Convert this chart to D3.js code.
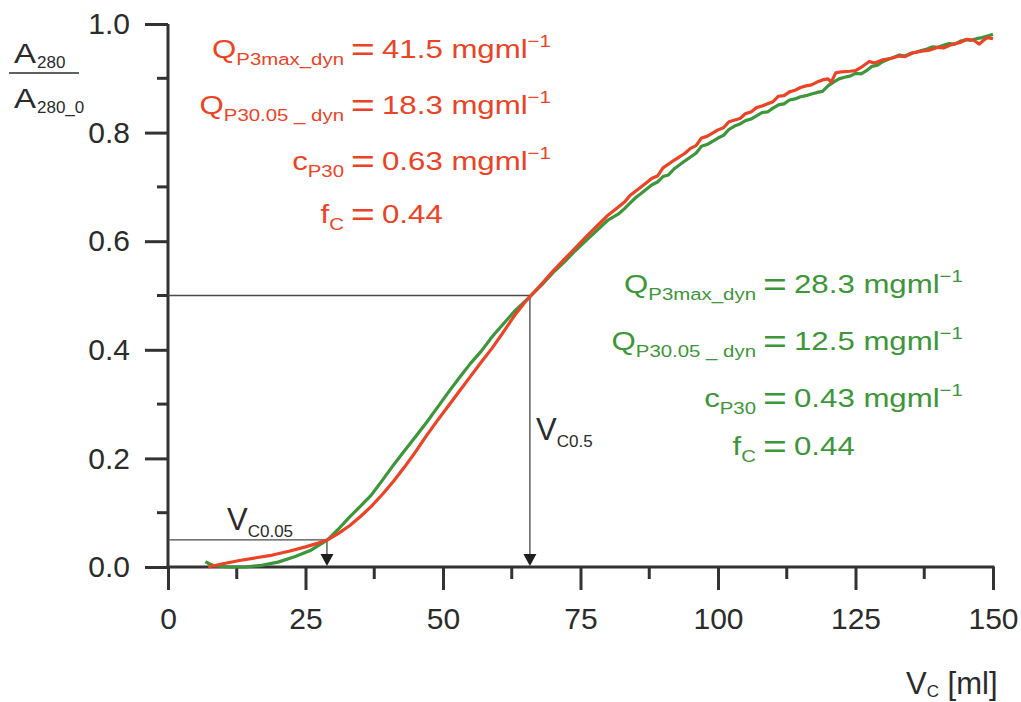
<!DOCTYPE html>
<html>
<head>
<meta charset="utf-8">
<script src="https://cdn.jsdelivr.net/npm/d3@7"></script>
<style>
  html, body { margin: 0; padding: 0; background: #fff; }
  svg { display: block; font-family: "Liberation Sans", Arial, Helvetica, sans-serif; }
</style>
</head>
<body>
<svg id="chart" width="1021" height="702"></svg>
<script>
// Breakthrough curves: normalised absorbance A280/A280_0 versus loaded volume Vc [ml]
const redVolume = [7.3, 10, 13, 16, 19, 22, 25, 27, 29, 31, 33, 35, 37, 39, 41, 43, 45, 47, 49, 51, 53, 55, 57, 59, 61, 63, 65,
  66, 68, 70, 72, 74, 76, 78, 80, 82, 83, 84, 86, 88, 89, 90, 92, 94, 95, 96, 97, 98, 100, 101, 102, 104, 105, 106, 107, 108,
  110, 111, 112, 113, 114, 115, 116, 117, 118, 119, 120, 120.6, 121.4, 122.5, 124, 125, 126, 127.5, 128.5, 130, 131.5, 133,
  134, 135.5, 137, 138.5, 140, 141, 142.5, 144, 145.3, 146.5, 147.5, 148.3, 149, 150];
const redRatio = [0.000, 0.006, 0.012, 0.017, 0.022, 0.029, 0.037, 0.043, 0.050, 0.062, 0.076, 0.093, 0.112, 0.134, 0.158,
  0.184, 0.212, 0.242, 0.270, 0.297, 0.324, 0.351, 0.378, 0.404, 0.433, 0.463, 0.489,
  0.500, 0.522, 0.545, 0.566, 0.587, 0.608, 0.628, 0.648, 0.664, 0.672, 0.684, 0.700, 0.716, 0.720, 0.735, 0.749, 0.762,
  0.771, 0.776, 0.790, 0.793, 0.805, 0.809, 0.820, 0.826, 0.835, 0.838, 0.846, 0.849,
  0.857, 0.867, 0.868, 0.875, 0.878, 0.883, 0.886, 0.888, 0.893, 0.897, 0.899, 0.893, 0.910, 0.912, 0.913, 0.914, 0.920,
  0.931, 0.928, 0.934, 0.937, 0.941, 0.940, 0.947, 0.950, 0.952, 0.957, 0.956, 0.962, 0.966, 0.972, 0.970, 0.963, 0.970,
  0.975, 0.973];

const greenVolume = [6.8, 7.5, 8.5, 11, 14, 17, 20, 23, 26, 29, 31, 33, 35, 37, 39, 41, 43, 45, 47, 49, 51, 53, 55, 57, 59,
  61, 63, 65, 66, 68, 70, 72, 74, 76, 78, 80, 82, 83, 84, 85, 86, 88, 89, 90, 91, 92, 94, 95, 96, 97, 98, 100, 101, 102,
  103, 104, 105, 106, 108, 109, 110, 111, 112, 113, 114, 115, 116, 117, 118, 119, 120, 121, 122, 123, 124, 125, 126, 127,
  128, 129, 130, 131, 132, 133, 134, 135, 136, 137, 138, 139, 140, 141, 142, 143, 144, 145, 146, 147, 148, 149, 150];
const greenRatio = [0.010, 0.006, 0.002, 0.000, 0.000, 0.003, 0.009, 0.019, 0.031, 0.050, 0.070, 0.092, 0.112, 0.133, 0.160,
  0.188, 0.214, 0.240, 0.266, 0.294, 0.322, 0.349, 0.375, 0.398, 0.425, 0.448, 0.471, 0.490, 0.500, 0.520, 0.542, 0.561,
  0.582, 0.601, 0.620, 0.639, 0.651, 0.660, 0.670, 0.680, 0.688, 0.704, 0.709, 0.719, 0.722, 0.733, 0.748, 0.755, 0.762,
  0.775, 0.778, 0.790, 0.795, 0.806, 0.812, 0.816, 0.822, 0.825, 0.837, 0.838, 0.845, 0.851, 0.853, 0.860, 0.862, 0.866,
  0.868, 0.871, 0.874, 0.876, 0.886, 0.893, 0.899, 0.902, 0.904, 0.909, 0.908, 0.914, 0.922, 0.924, 0.931, 0.935, 0.939,
  0.943, 0.941, 0.946, 0.948, 0.951, 0.954, 0.958, 0.957, 0.961, 0.964, 0.963, 0.968, 0.971, 0.970, 0.973, 0.975, 0.978,
  0.981];

const xTicks = [0, 25, 50, 75, 100, 125, 150];
const xMinorTicks = [12.5, 37.5, 62.5, 87.5, 112.5, 137.5];
const yTicks = [0.0, 0.2, 0.4, 0.6, 0.8, 1.0];
const yMinorTicks = [0.1, 0.3, 0.5, 0.7, 0.9];

// Breakthrough markers: ratio level and the volume where it is reached
const markerLevels = [0.05, 0.5];
const markerVolumes = [28.9, 65.8];

// Fitted parameters for each run
const redParams = [
  { sym: "Q", sub: "P3max_dyn", val: "41.5 mgml", sup: "\u22121" },
  { sym: "Q", sub: "P30.05 _ dyn", val: "18.3 mgml", sup: "\u22121" },
  { sym: "c", sub: "P30", val: "0.63 mgml", sup: "\u22121" },
  { sym: "f", sub: "C", val: "0.44", sup: "" }
];
const greenParams = [
  { sym: "Q", sub: "P3max_dyn", val: "28.3 mgml", sup: "\u22121" },
  { sym: "Q", sub: "P30.05 _ dyn", val: "12.5 mgml", sup: "\u22121" },
  { sym: "c", sub: "P30", val: "0.43 mgml", sup: "\u22121" },
  { sym: "f", sub: "C", val: "0.44", sup: "" }
];

const RED = "#ec4326";
const GREEN = "#3d9639";
const AXIS = "#333333";

const svg = d3.select("#chart");
const x = d3.scaleLinear().domain([0, 150]).range([168, 993]);
const y = d3.scaleLinear().domain([0, 1]).range([567, 24]);

// ---- axes ----
const yAxis = d3.axisLeft(y).tickValues(yTicks).tickFormat(d3.format(".1f")).tickSize(23).tickPadding(15);
const gy = svg.append("g").attr("transform", `translate(${x(0)},0)`).call(yAxis);
gy.append("g").selectAll("line").data(yMinorTicks).join("line")
  .attr("x1", -11).attr("x2", 0).attr("y1", d => y(d)).attr("y2", d => y(d));

const xAxis = d3.axisBottom(x).tickValues(xTicks).tickFormat(d3.format("d")).tickSize(23).tickPadding(18);
const gx = svg.append("g").attr("transform", `translate(0,${y(0)})`).call(xAxis);
gx.append("g").selectAll("line").data(xMinorTicks).join("line")
  .attr("x1", d => x(d)).attr("x2", d => x(d)).attr("y1", 0).attr("y2", 12);

[gx, gy].forEach(g => {
  g.select(".domain").remove();
  g.selectAll("line").attr("stroke", AXIS).attr("stroke-width", 3);
  g.selectAll("text").attr("fill", "#2b2b2b").attr("font-size", 30)
    .attr("font-family", '"Liberation Sans", Arial, sans-serif');
});
svg.append("line").attr("x1", x(0)).attr("x2", x(0)).attr("y1", y(1)).attr("y2", y(0))
  .attr("stroke", AXIS).attr("stroke-width", 3);
svg.append("line").attr("x1", x(0) - 1.5).attr("x2", x(150) + 1.5).attr("y1", y(0)).attr("y2", y(0))
  .attr("stroke", AXIS).attr("stroke-width", 3);

// ---- breakthrough guide lines with arrows ----
const guides = svg.append("g");
markerLevels.forEach((lvl, i) => {
  const vx = x(markerVolumes[i]);
  guides.append("path")
    .attr("d", `M${x(0)},${y(lvl)}H${vx}V${y(0) - 10}`)
    .attr("fill", "none").attr("stroke", "#4a4a4a").attr("stroke-width", 1.3);
  guides.append("path")
    .attr("d", `M${vx - 6.5},${y(0) - 13}L${vx + 6.5},${y(0) - 13}L${vx},${y(0) - 1}Z`)
    .attr("fill", "#1e1e1e");
});

// ---- curves ----
const line = d3.line().x(d => x(d[0])).y(d => y(d[1])).curve(d3.curveLinear);
const redData = redVolume.map((v, i) => [v, redRatio[i]]);
const greenData = greenVolume.map((v, i) => [v, greenRatio[i]]);
svg.append("path").datum(greenData).attr("d", line)
  .attr("fill", "none").attr("stroke", GREEN).attr("stroke-width", 3.2).attr("stroke-linejoin", "round");
svg.append("path").datum(redData).attr("d", line)
  .attr("fill", "none").attr("stroke", RED).attr("stroke-width", 3.2).attr("stroke-linejoin", "round");

// ---- y axis title: A280 / A280_0 ----
const yt = svg.append("g").attr("fill", "#2b2b2b");
[[63, "280"], [108, "280_0"]].forEach(([by, sub]) => {
  const t = yt.append("g").attr("transform", `translate(14,${by})`);
  t.append("text").attr("font-size", 28).attr("transform", "scale(1.18,1)").text("A");
  t.append("text").attr("x", 23).attr("dy", 5).attr("font-size", 17).text(sub);
});
yt.append("line").attr("x1", 9).attr("x2", 79).attr("y1", 73).attr("y2", 73)
  .attr("stroke", "#2b2b2b").attr("stroke-width", 1.5);

// ---- x axis title: Vc [ml] ----
const xt = svg.append("text").attr("x", 906).attr("y", 694).attr("font-size", 31).attr("fill", "#2b2b2b");
xt.append("tspan").text("V");
xt.append("tspan").attr("font-size", 17).attr("dy", 3).text("C");
xt.append("tspan").attr("dy", -3).text(" [ml]");

// ---- guide labels ----
function subLabel(px, py, main, sub) {
  const t = svg.append("text").attr("x", px).attr("y", py).attr("font-size", 31).attr("fill", "#2b2b2b");
  t.append("tspan").text(main);
  t.append("tspan").attr("font-size", 17).attr("dy", 7).text(sub);
}
subLabel(227, 530, "V", "C0.05");
subLabel(536, 440, "V", "C0.5");

// ---- parameter blocks (wide-set lettering) ----
const SX = 1.2;
function paramBlock(params, eqX, baselines, color) {
  const g = svg.append("g").attr("fill", color)
    .attr("transform", `translate(${eqX},0) scale(${SX},1)`);
  params.forEach((p, i) => {
    const left = g.append("text").attr("x", -7 / SX).attr("y", baselines[i])
      .attr("text-anchor", "end").attr("font-size", 26);
    left.append("tspan").text(p.sym);
    left.append("tspan").attr("font-size", 17).attr("dy", 7).text(p.sub);
    const right = g.append("text").attr("x", 0).attr("y", baselines[i]).attr("font-size", 26);
    right.append("tspan").attr("font-size", 34).attr("dy", 3).text("=");
    right.append("tspan").attr("dx", 6).attr("dy", -3).text(p.val);
    if (p.sup) right.append("tspan").attr("font-size", 17).attr("dy", -11).text(p.sup);
  });
}
paramBlock(redParams, 351, [58, 114, 170, 223], RED);
paramBlock(greenParams, 763, [293, 350, 407, 455], GREEN);
</script>
</body>
</html>
